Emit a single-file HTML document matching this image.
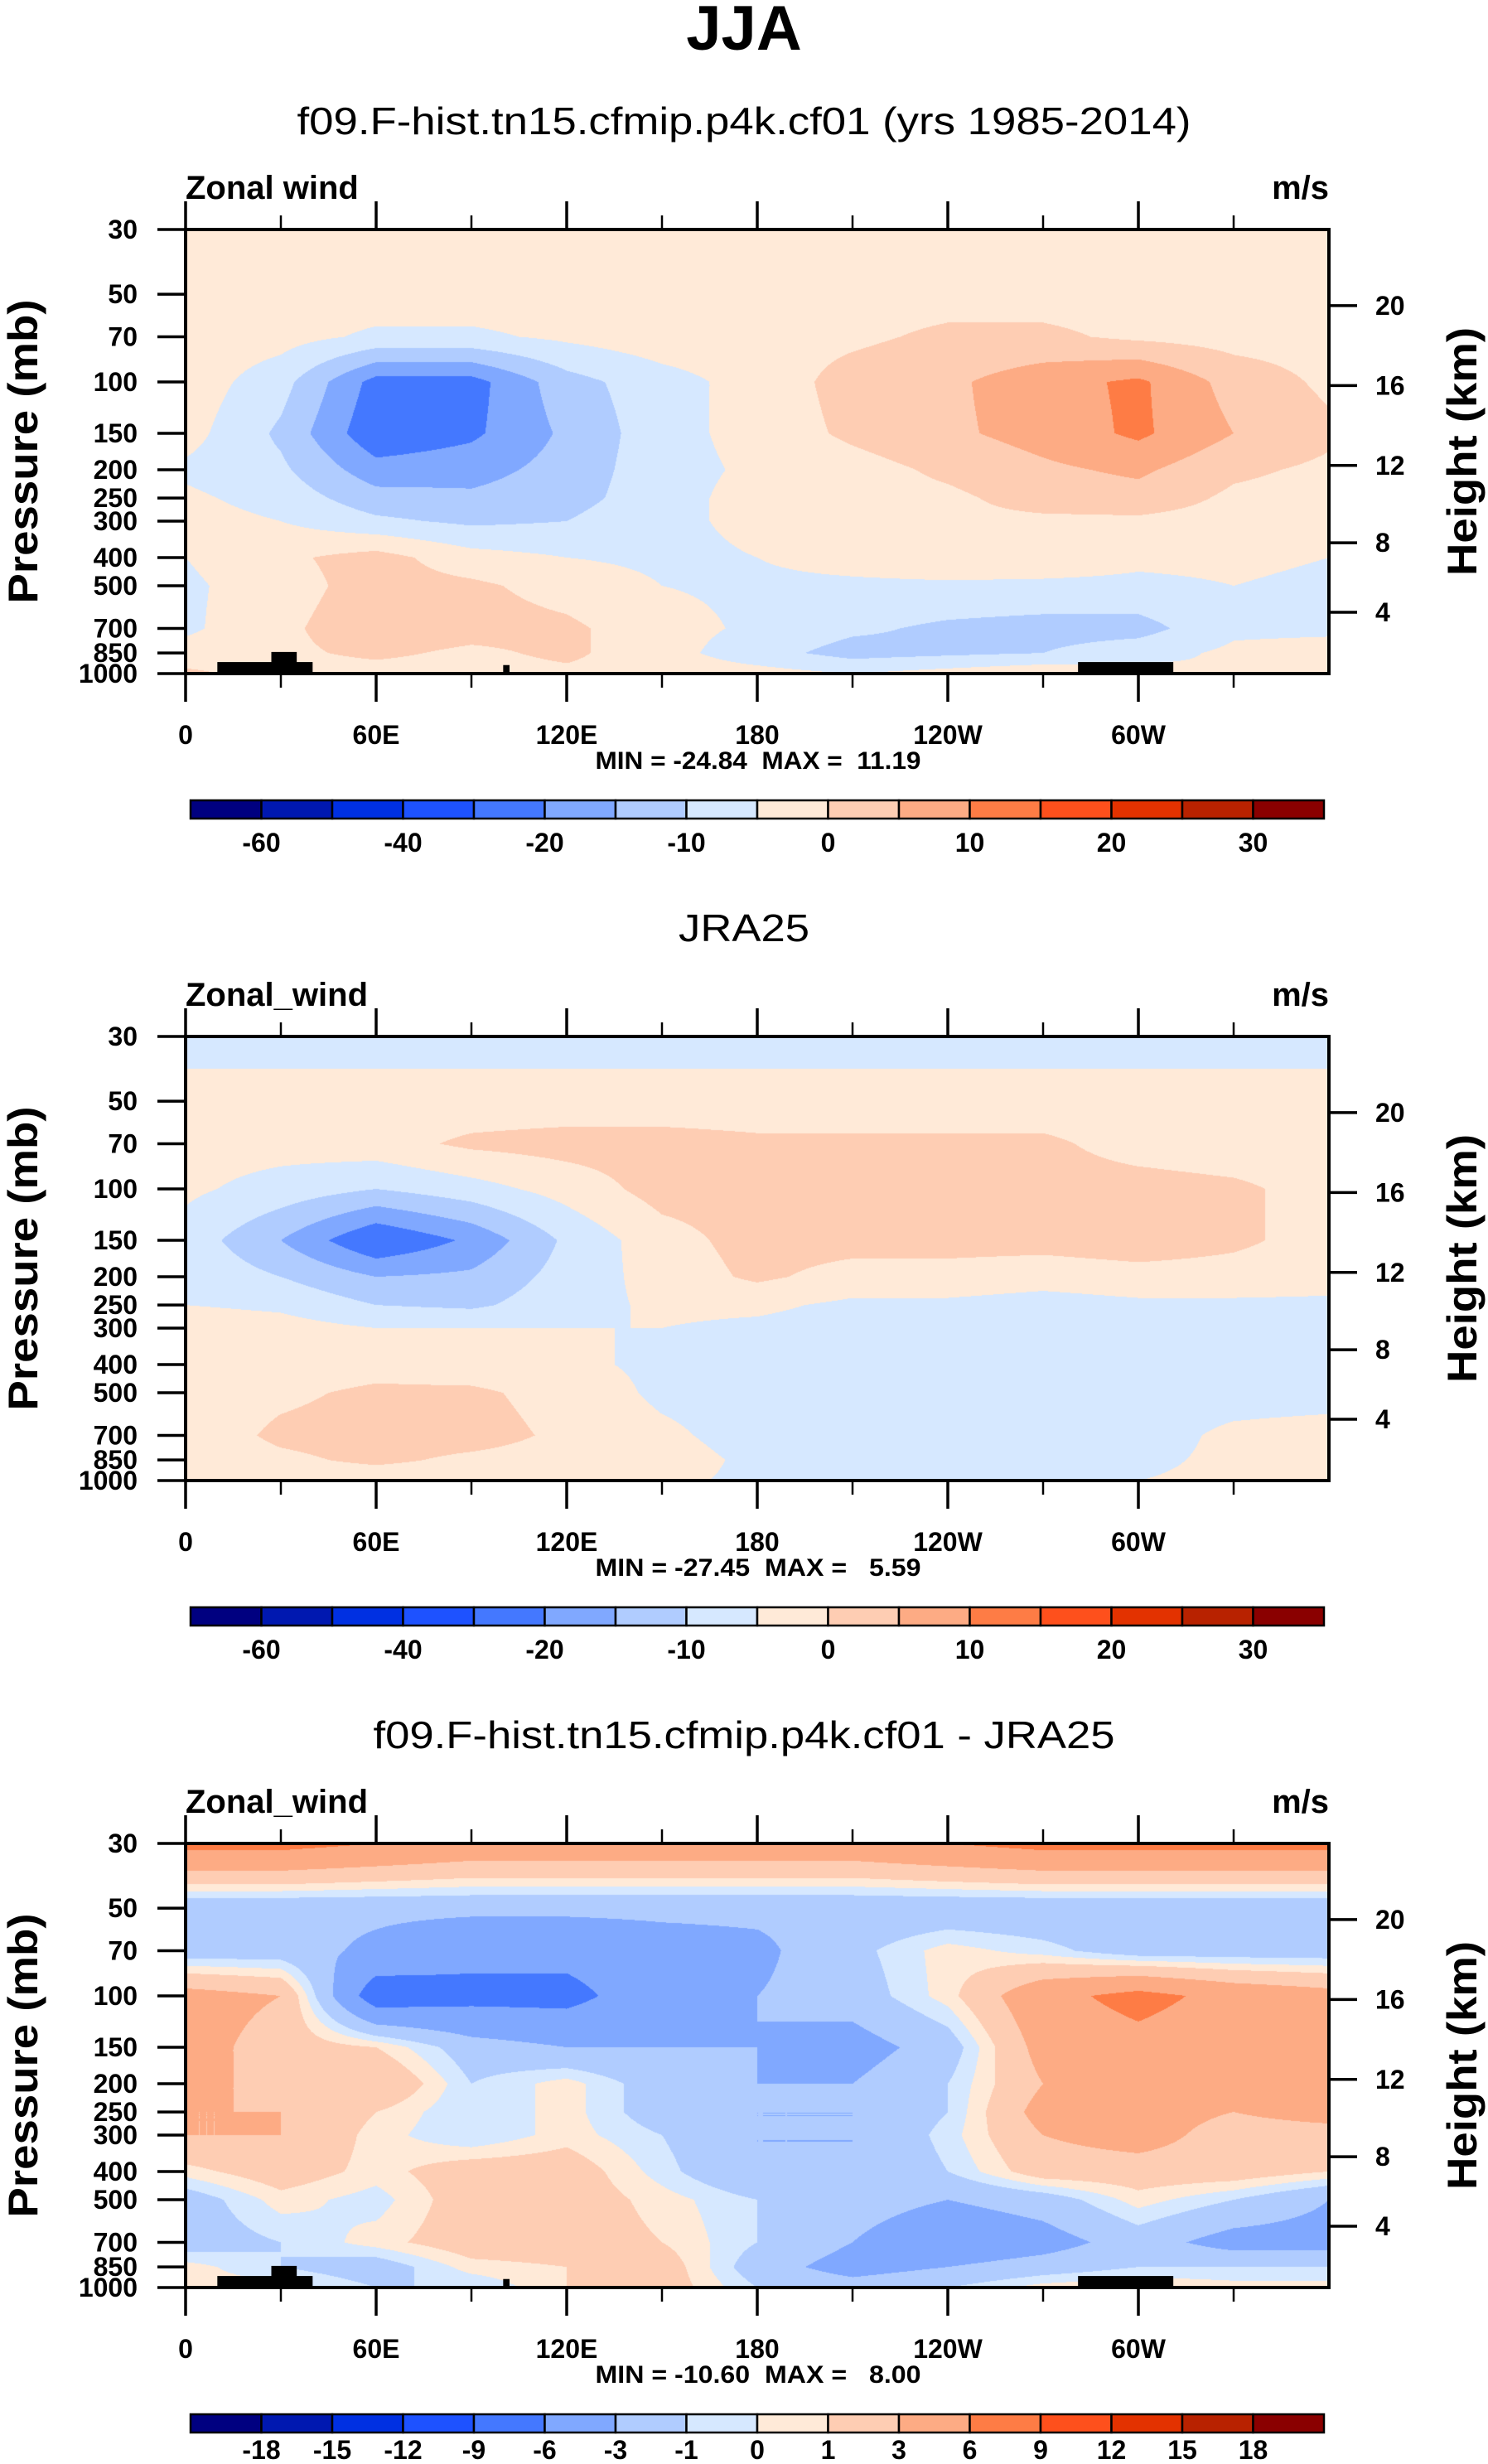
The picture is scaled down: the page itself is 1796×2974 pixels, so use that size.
<!DOCTYPE html>
<html><head><meta charset="utf-8">
<style>
html,body{margin:0;padding:0;background:#fff;}
#root{position:relative;width:1796px;height:2974px;overflow:hidden;background:#fff;}
canvas{position:absolute;}
svg{position:absolute;left:0;top:0;}
text{font-family:"Liberation Sans",sans-serif;fill:#000;white-space:pre;}
</style></head>
<body>
<div id="root">
<svg id="svg" width="1796" height="2974"></svg>
</div>
<script>
const levels=[30,50,70,100,150,200,250,300,400,500,700,850,1000];
const lons=[0,30,60,90,120,150,180,210,240,270,300,330,360];
const pTickLabels=["30","50","70","100","150","200","250","300","400","500","700","850","1000"];
const lonTicks=[0,60,120,180,240,300];
const lonTickLabels=["0","60E","120E","180","120W","60W"];
const heightTicks=[4,8,12,16,20];
const modelField=[
[-2,-2,-2,-2,-2,-2,-2,-2,-2,-2,-2,-2,-2],
[-2,-2,-2,-2,-2,-2,-2,-2,-2,-2,-2,-2,-2],
[-2,-3,-6,-6,-4,-2,-2,-1,1,1,-1,-2,-2],
[-2,-8,-22,-22,-12,-7,-3,2,4,8,11,3,-1],
[-3,-11,-24,-21,-14,-7,-3,1,4,7,11,5,1],
[-6,-9,-18,-17,-13,-7,-4,-2,1,4,6,1,-1],
[-4,-7,-13,-14,-12,-7,-3,-2,-1,2,3,-1,-2],
[-3,-5,-9,-11,-10,-6,-4,-2,-1,-1,-1,-2,-3],
[-5,-1,2,-3,-5,-6,-5,-3,-1,-2,-4,-4,-5],
[-6,-2,2,1,-2,-5,-6,-6,-6,-6,-6,-5,-6],
[-6,-1,3,2,1,-3,-6,-9,-11,-12,-12,-6,-6],
[-3,-1,1,-1,1,-3,-8,-12,-11,-10,-7,-4,-3],
[1,-2,-2,-2,-1,-2,-3,-5,-3,-1,-3,-5,-4]];
const obsField=[
[-7,-7,-7,-7,-7,-7,-7,-7,-7,-7,-7,-7,-7],
[-3,-3,-3,-3,-3,-3,-3,-3,-3,-3,-3,-3,-3],
[-3,-3,-2,1,2,2,1,1,1,1,-2,-3,-3],
[-4,-7,-10,-7,-3,2,2,2,2,2,2,1,-2],
[-7,-15,-25,-19,-9,-2,2,2,2,2,3,1,-2],
[-6,-10,-15,-14,-8,-3,1,-2,-2,-3,-2,-2,-3],
[-5,-6,-10,-11,-7,-4,-4,-6,-6,-7,-6,-6,-6],
[-2,-3,-5,-5,-5,-5,-6,-7,-7,-7,-7,-7,-7],
[-4,-3,-2,-3,-4,-6,-7,-7,-7,-6,-6,-7,-7],
[-3,-1,1,1,-2,-6,-7,-7,-7,-7,-7,-7,-7],
[-3,1,2,2,-1,-4,-7,-7,-7,-7,-7,-4,-3],
[-3,-1,1,-1,-2,-3,-6,-7,-7,-7,-6,-4,-3],
[-2,-3,-3,-3,-3,-4,-6,-6,-6,-6,-5,-4,-3]];
const diffField=[
[7,7,6,5,5,5,5,5,6,7,7,7,7],
[-2.5,-2.5,-2.5,-2.5,-2.5,-2.5,-2.5,-2.5,-2.5,-2.5,-2.5,-2.5,-2.5],
[-2,-2,-3.5,-5,-5,-4,-3.5,-1.5,0.5,-0.5,-2,-2,-2],
[4,3,-8,-7,-7,-4,-3,-2,0.5,5,7,5,4],
[4,2,1,-2,-3,-3,-3,-4,-2,4,5,4,4],
[4,2,3,-1,0.5,-2,-3,-3,-1,3,4,3,4],
[3,3,1,-1,0.5,-2,-3,-3,-1,4,4,3,4],
[3,3,0.5,-1,0.5,-1,-3,-3,-0.5,3,4,2,2],
[0.5,2,0.5,2,2,-0.5,-3,-3,-1,2,2,2,1],
[-2,0.5,-0.5,2,2,0.5,-1,-2,-3,-2,0.5,-1,-3],
[-2,-1,0.5,2,2,1,-1,-3,-5,-4,-2,-4,-4],
[0.5,-1,-2,0.5,1,2,-2,-4,-3,-2,-1,-1,-1],
[0.5,0.5,-1,-1,1,2,-1,-2,-1,0.5,1,0.5,0.5]];
const windBounds=[-60,-50,-40,-30,-20,-15,-10,-5,0,5,10,15,20,25,30];
const windLabels=["-60","","-40","","-20","","-10","","0","","10","","20","","30"];
const diffBounds=[-18,-15,-12,-9,-6,-3,-1,0,1,3,6,9,12,15,18];
const diffLabels=["-18","-15","-12","-9","-6","-3","-1","0","1","3","6","9","12","15","18"];
const terrainLon0=[10,27,100,281];
const terrainLon1=[40,35,102,311];
const terrainP=[913,843,935,913];
const colors=["#000080","#0018b0","#0030e2","#1e52ff","#4478ff","#80a8ff","#b0ccff","#d6e8ff","#ffead8","#fecdb3","#fdab84","#fe7c45","#fe501c","#e33200","#b82200","#8a0000"];

const svg=document.getElementById('svg');
const NS='http://www.w3.org/2000/svg';
const X0=224,X1=1604,Y0=277,Y1=813;
function xOf(lon){return X0+lon/360*(X1-X0);}
function yOf(p,off){return off+Y0+Math.log(p/30)/Math.log(1000/30)*(Y1-Y0);}
function pOfZ(z){return z<11?1013.25*Math.pow(1-z/44.33,5.256):226.3*Math.exp(-(z-11)/6.34);}
function mk(tag,attrs){const e=document.createElementNS(NS,tag);for(const k in attrs)e.setAttribute(k,attrs[k]);svg.appendChild(e);return e;}
function txt(s,x,y,size,weight,anchor){const t=mk('text',{x:x,y:y,'font-size':size,'font-weight':weight,'text-anchor':anchor});t.textContent=s;return t;}
function classOf(v,b){let i=0;while(i<b.length&&v>=b[i])i++;return i;}
function hex(c){return [parseInt(c.substr(1,2),16),parseInt(c.substr(3,2),16),parseInt(c.substr(5,2),16)];}
const rgb=colors.map(hex);
const logL=levels.map(p=>Math.log(p));

function drawField(field,bounds,off,name){
  const W=X1-X0,H=Y1-Y0;
  const cv=document.createElement('canvas');
  cv.width=W;cv.height=H;cv.style.left=X0+'px';cv.style.top=(Y0+off)+'px';
  
  
  document.getElementById('root').insertBefore(cv,svg);
  const ctx=cv.getContext('2d');const img=ctx.createImageData(W,H);const d=img.data;
  for(let py=0;py<H;py++){
    const lp=Math.log(30)+(py+0.5)/H*Math.log(1000/30);
    let r=0;while(r<levels.length-2&&lp>logL[r+1])r++;
    const fy=Math.min(1,Math.max(0,(lp-logL[r])/(logL[r+1]-logL[r])));
    for(let px=0;px<W;px++){
      const lon=(px+0.5)/W*360;
      let c=Math.min(lons.length-2,Math.floor(lon/30));
      const fx=(lon-lons[c])/30;
      const v=(1-fy)*((1-fx)*field[r][c]+fx*field[r][c+1])+fy*((1-fx)*field[r+1][c]+fx*field[r+1][c+1]);
      const col=rgb[classOf(v,bounds)];const k=(py*W+px)*4;
      d[k]=col[0];d[k+1]=col[1];d[k+2]=col[2];d[k+3]=255;
    }
  }
  ctx.putImageData(img,0,0);
}

function drawPanel(off,title,titleLen,field,bounds,labels,leftTitle,minmax,showTerrain,cbLabelY){
  const tt=txt(title,898,off+162,46,'normal','middle');
  tt.setAttribute('textLength',titleLen);tt.setAttribute('lengthAdjust','spacingAndGlyphs');
  
  
  drawField(field,bounds,off,'contour-field');
  if(showTerrain){
    for(let i=0;i<terrainP.length;i++){
      const rr=mk('rect',{x:xOf(terrainLon0[i]),y:yOf(terrainP[i],off),width:xOf(terrainLon1[i])-xOf(terrainLon0[i]),height:yOf(1000,off)-yOf(terrainP[i],off),fill:'#000'});
      
      
    }
  }
  const fr=mk('rect',{x:X0,y:Y0+off,width:X1-X0,height:Y1-Y0,fill:'none',stroke:'#000','stroke-width':4});
  
  
  for(let i=0;i<levels.length;i++){
    const y=yOf(levels[i],off);
    const tk=mk('line',{x1:X0-34,x2:X0,y1:y,y2:y,stroke:'#000','stroke-width':3.5});
    
    
    const tl=txt(pTickLabels[i],166,y+11,32,'bold','end');
    
    
  }
  for(let lon=0;lon<=330;lon+=30){
    const x=xOf(lon);const major=lon%60===0;const L=major?34:17;
    const a=mk('line',{x1:x,x2:x,y1:Y0+off-L,y2:Y0+off,stroke:'#000','stroke-width':major?3.5:2.5});
    
    
    const b=mk('line',{x1:x,x2:x,y1:Y1+off,y2:Y1+off+L,stroke:'#000','stroke-width':major?3.5:2.5});
    
    
  }
  for(let i=0;i<lonTicks.length;i++){
    const l=txt(lonTickLabels[i],xOf(lonTicks[i]),off+898,32,'bold','middle');
    
    
  }
  for(let i=0;i<heightTicks.length;i++){
    const y=yOf(pOfZ(heightTicks[i]),off);
    const t=mk('line',{x1:X1,x2:X1+34,y1:y,y2:y,stroke:'#000','stroke-width':3.5});
    
    
    const l=txt(String(heightTicks[i]),1660,y+11,32,'bold','start');
    
    
  }
  const lt=txt(leftTitle,224,off+240,40,'bold','start');
  
  
  const ut=txt('m/s',1604,off+240,40,'bold','end');
  
  
  const yl=txt('Pressure (mb)',0,0,50,'bold','middle');
  yl.setAttribute('transform','translate(45,'+(off+545)+') rotate(-90)');
  yl.setAttribute('textLength','367');yl.setAttribute('lengthAdjust','spacingAndGlyphs');
  
  
  const yr=txt('Height (km)',0,0,50,'bold','middle');
  yr.setAttribute('transform','translate(1782,'+(off+545)+') rotate(-90)');
  yr.setAttribute('textLength','300');yr.setAttribute('lengthAdjust','spacingAndGlyphs');
  
  
  const mm=txt(minmax,915,off+928,30,'bold','middle');
  mm.setAttribute('textLength','393');mm.setAttribute('lengthAdjust','spacingAndGlyphs');
  
  
  const cbx=230,cbw=(1598-230)/16;
  for(let i=0;i<16;i++){
    const r=mk('rect',{x:cbx+i*cbw,y:off+966,width:cbw,height:22,fill:colors[i],stroke:'#000','stroke-width':2.5});
    
    
  }
  for(let i=0;i<labels.length;i++){
    if(!labels[i])continue;
    const l=txt(labels[i],cbx+(i+1)*cbw,off+cbLabelY,32,'bold','middle');
    
    
  }
}
const main=txt('JJA',898,60,76,'bold','middle');


drawPanel(0,'f09.F-hist.tn15.cfmip.p4k.cf01 (yrs 1985-2014)',1079,modelField,windBounds,windLabels,'Zonal wind','MIN = -24.84  MAX =  11.19',true,1028);
drawPanel(974,'JRA25',158,obsField,windBounds,windLabels,'Zonal_wind','MIN = -27.45  MAX =   5.59',false,1028);
drawPanel(1948,'f09.F-hist.tn15.cfmip.p4k.cf01 - JRA25',895,diffField,diffBounds,diffLabels,'Zonal_wind','MIN = -10.60  MAX =   8.00',true,1020);
</script>
</body></html>
